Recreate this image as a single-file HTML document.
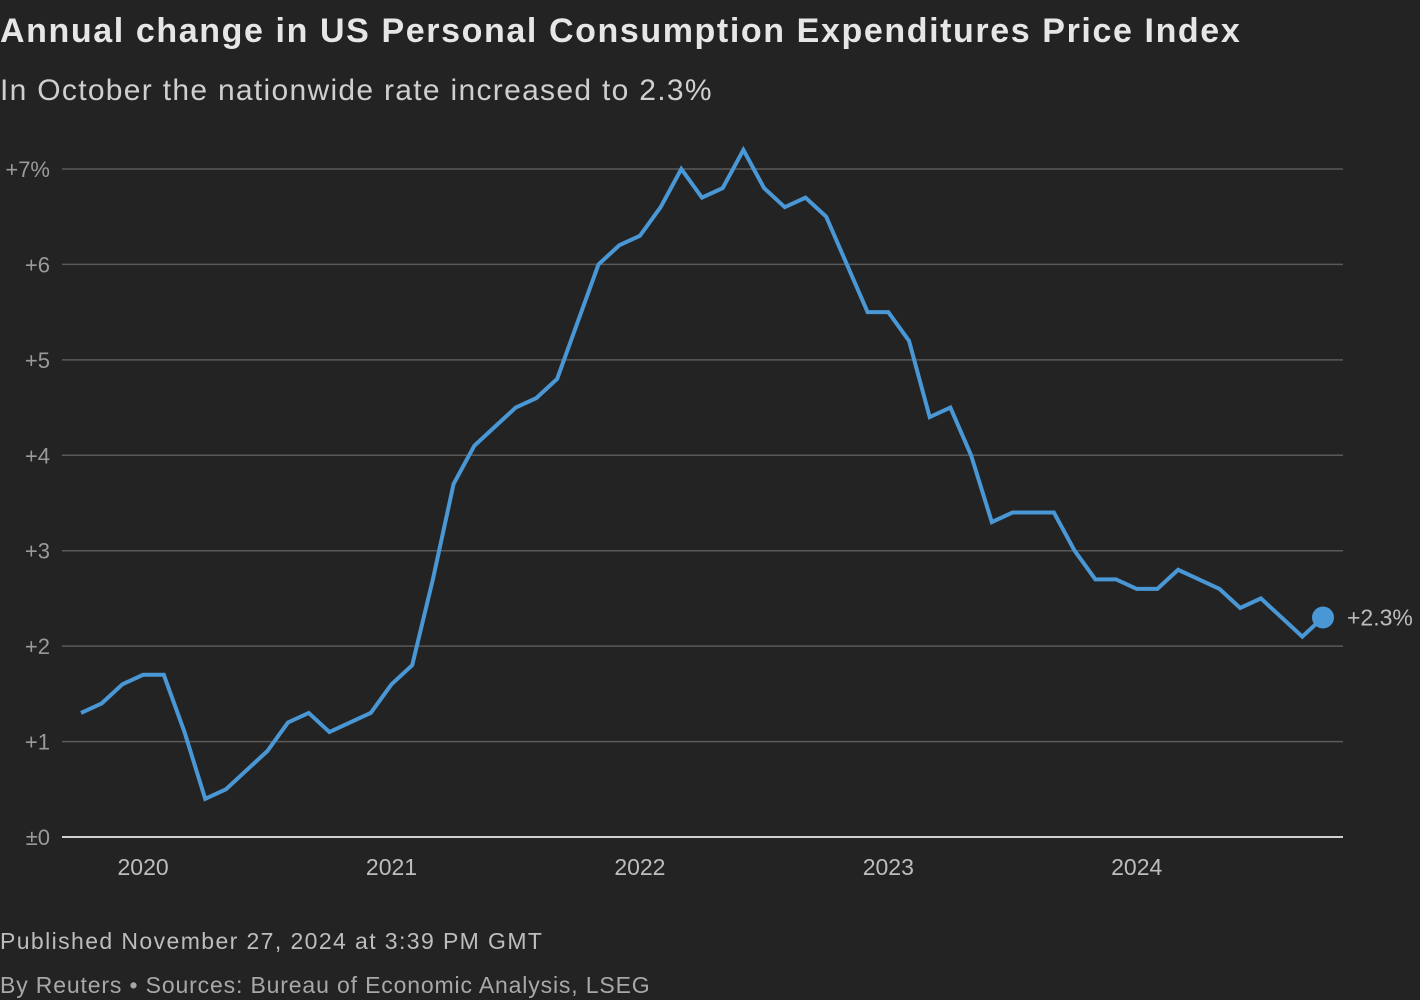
<!DOCTYPE html>
<html><head><meta charset="utf-8"><style>
body{margin:0;background:#232323;width:1420px;height:1000px;overflow:hidden;font-family:"Liberation Sans",sans-serif;}
#title{position:absolute;left:0;top:12px;font-size:34px;font-weight:bold;color:#e6e6e6;letter-spacing:1.6px;white-space:nowrap}
#sub{position:absolute;left:0;top:74px;font-size:30px;color:#cfcfcf;letter-spacing:1.3px;white-space:nowrap}
#pub{position:absolute;left:0;top:928px;font-size:23px;color:#bdbdbd;letter-spacing:1.4px;white-space:nowrap}
#src{position:absolute;left:0;top:972px;font-size:23px;color:#a8a8a8;letter-spacing:0.85px;white-space:nowrap}
svg{position:absolute;left:0;top:0}
</style></head><body>
<div id="title">Annual change in US Personal Consumption Expenditures Price Index</div>
<div id="sub">In October the nationwide rate increased to 2.3%</div>
<svg id="chart" width="1420" height="1000"></svg>
<div id="pub">Published November 27, 2024 at 3:39 PM GMT</div>
<div id="src">By Reuters • Sources: Bureau of Economic Analysis, LSEG</div>
<script>
const yTicks=[0,1,2,3,4,5,6,7];
const yTickLabels=["±0","+1","+2","+3","+4","+5","+6","+7%"];
const xYears=[2020,2021,2022,2023,2024];
const startYear=2019, startMonth=9; // Oct 2019 (0-based)
const values=[1.3,1.4,1.6,1.7,1.7,1.1,0.4,0.5,0.7,0.9,1.2,1.3,1.1,1.2,1.3,1.6,1.8,2.7,3.7,4.1,4.3,4.5,4.6,4.8,5.4,6.0,6.2,6.3,6.6,7.0,6.7,6.8,7.2,6.8,6.6,6.7,6.5,6.0,5.5,5.5,5.2,4.4,4.5,4.0,3.3,3.4,3.4,3.4,3.0,2.7,2.7,2.6,2.6,2.8,2.7,2.6,2.4,2.5,2.3,2.1,2.3];
const NS="http://www.w3.org/2000/svg";
const svg=document.getElementById('chart');
const x=i=>81+i*(1323-81)/60;
const y=v=>837-v*(837-169)/7;
function mk(t,a){const e=document.createElementNS(NS,t);for(const k in a)e.setAttribute(k,a[k]);svg.appendChild(e);return e;}
yTicks.forEach((t,i)=>{
 const l=mk('line',{x1:62,x2:1343,y1:y(t),y2:y(t),stroke:t===0?'#d0d0d0':'#5a5a5a','stroke-width':t===0?2:1.5});
 
 
 const tx=mk('text',{x:50,y:y(t)+8,'text-anchor':'end','font-size':22,fill:'#9a9a9a','font-family':'Liberation Sans, sans-serif'});
 tx.textContent=yTickLabels[i];
 
 
});
xYears.forEach(yr=>{
 const idx=(yr-startYear)*12-startMonth;
 const tx=mk('text',{x:x(idx),y:875,'text-anchor':'middle','font-size':23,fill:'#bdbdbd','font-family':'Liberation Sans, sans-serif'});
 tx.textContent=yr;
 
 
});
const p=mk('polyline',{points:values.map((v,i)=>x(i)+','+y(v)).join(' '),fill:'none',stroke:'#4a97d6','stroke-width':4,'stroke-linejoin':'miter'});


const n=values.length-1;
const c=mk('circle',{cx:x(n),cy:y(values[n]),r:11,fill:'#4a97d6'});


const lb=mk('text',{x:x(n)+24,y:y(values[n])+8,'font-size':23,fill:'#bdbdbd','font-family':'Liberation Sans, sans-serif'});
lb.textContent='+'+values[n].toFixed(1)+'%';


</script>
</body></html>
